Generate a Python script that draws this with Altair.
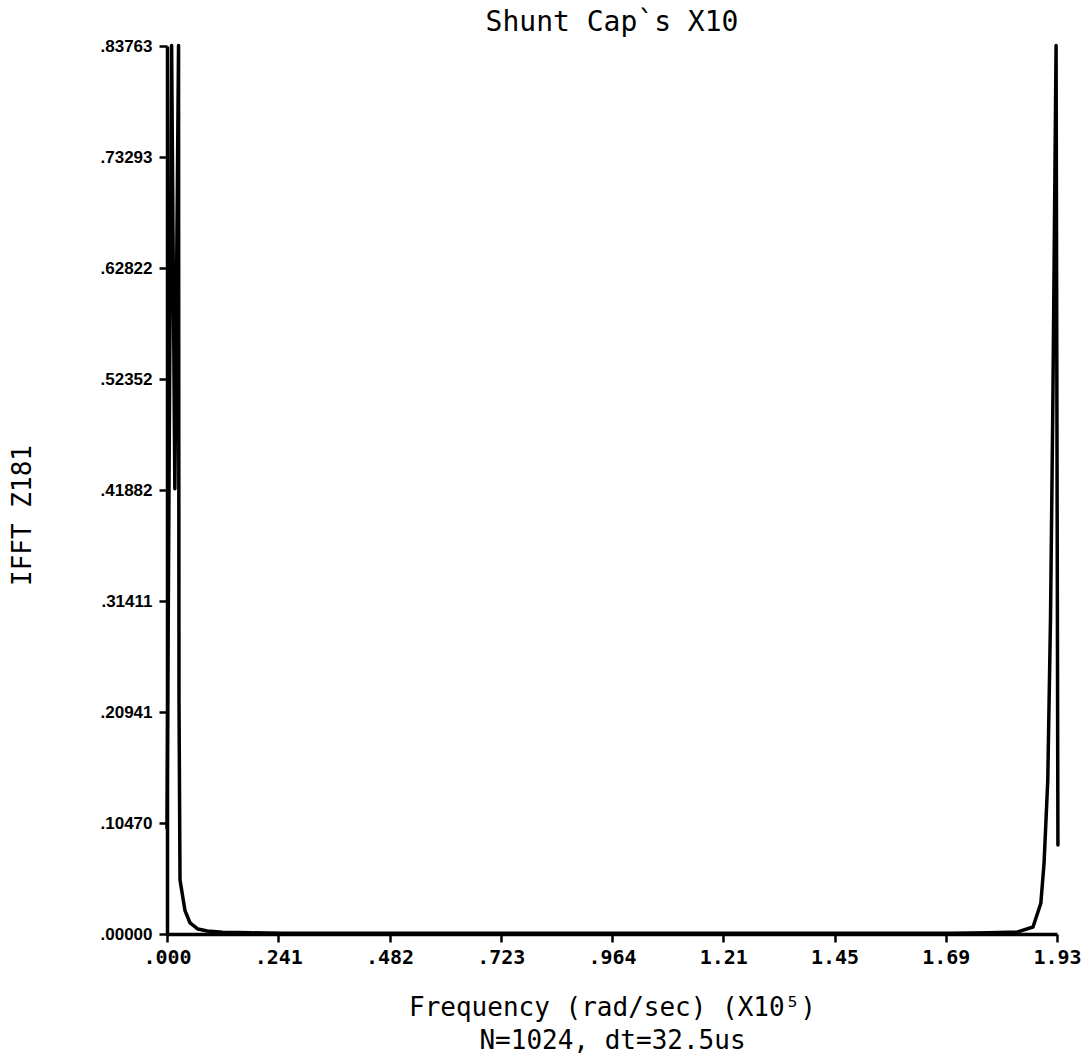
import altair as alt
import pandas as pd

# Sample positions along the axis (x 10^5 rad/sec)
freq = [
    0.000, 0.010, 0.017, 0.025, 0.0255, 0.026, 0.0282, 0.039, 0.050, 0.067,
    0.087, 0.120, 0.180, 0.250, 0.400, 0.600, 0.800, 1.000, 1.200, 1.400,
    1.600, 1.700, 1.780, 1.843, 1.876, 1.893, 1.900, 1.908, 1.914, 1.919,
    1.926, 1.930,
]
# IFFT magnitude at each sample
mag = [
    0.100, 0.838, 0.420, 0.838, 0.500, 0.220, 0.051, 0.022, 0.0104, 0.0047,
    0.0028, 0.0017, 0.0011, 0.0008, 0.0007, 0.0006, 0.0006, 0.0006, 0.0006, 0.0006,
    0.0007, 0.0008, 0.0012, 0.0020, 0.0066, 0.029, 0.067, 0.145, 0.300, 0.500,
    0.838, 0.084,
]

x_tick_labels = [".000", ".241", ".482", ".723", ".964", "1.21", "1.45", "1.69", "1.93"]
x_step = 0.241
y_tick_labels = [".00000", ".10470", ".20941", ".31411", ".41882",
                 ".52352", ".62822", ".73293", ".83763"]
y_max = 0.83763
y_step = y_max / 8

x_values = [round(i * x_step, 6) for i in range(len(x_tick_labels))]
y_values = [i * y_step for i in range(len(y_tick_labels))]

x_expr = "[" + ",".join(f"'{s}'" for s in x_tick_labels) + f"][round(datum.value / {x_step})]"
y_expr = "[" + ",".join(f"'{s}'" for s in y_tick_labels) + f"][round(datum.value / {y_step})]"

df = pd.DataFrame({"freq": freq, "mag": mag})

MONO = "DejaVu Sans Mono"

chart = (
    alt.Chart(df)
    .mark_line(color="black", strokeWidth=3.5, strokeJoin="round", strokeCap="round", clip=False)
    .encode(
        x=alt.X(
            "freq:Q",
            scale=alt.Scale(domain=[0, x_values[-1]], nice=False, zero=False),
            axis=alt.Axis(
                values=x_values,
                labelExpr=x_expr,
                labelFont=MONO,
                labelFontSize=20,
                labelFontWeight="bold",
                labelColor="black",
                labelPadding=5,
                labelFlush=False,
                labelOverlap=False,
                tickSize=8,
                tickWidth=2.5,
                tickColor="black",
                domainColor="black",
                domainWidth=3.5,
                grid=False,
                title=["Frequency (rad/sec) (X10\u2075)", "N=1024, dt=32.5us"],
                titleFont=MONO,
                titleFontSize=26,
                titleFontWeight="normal",
                titleColor="black",
                titleBaseline="top",
                titleY=60,
                titleLineHeight=33,
            ),
        ),
        y=alt.Y(
            "mag:Q",
            scale=alt.Scale(domain=[0, y_max], nice=False, zero=False),
            axis=alt.Axis(
                values=y_values,
                labelExpr=y_expr,
                labelFont="Liberation Sans",
                labelFontSize=17,
                labelFontWeight="bold",
                labelColor="black",
                labelPadding=7,
                labelOverlap=False,
                labelFlush=False,
                tickSize=8,
                tickWidth=2.5,
                tickColor="black",
                domainColor="black",
                domainWidth=3.5,
                grid=False,
                title="IFFT Z181",
                titleFont=MONO,
                titleFontSize=26,
                titleFontWeight="normal",
                titleColor="black",
                titleAngle=270,
                titleAlign="center",
                titleBaseline="middle",
                titleX=-145,
                titleY=469,
            ),
        ),
    )
    .properties(
        width=890,
        height=888,
        autosize=alt.AutoSizeParams(type="none"),
        padding={"left": 167, "top": 46, "right": 33, "bottom": 127},
        background="white",
        title=alt.Title(
            "Shunt Cap`s X10",
            font=MONO,
            fontSize=28,
            fontWeight="normal",
            color="black",
            anchor="middle",
            frame="group",
            baseline="alphabetic",
            offset=-22,
        ),
    )
    .configure_view(strokeWidth=0)
)

chart.save("out.html", embed_options={"renderer": "svg", "actions": False})
